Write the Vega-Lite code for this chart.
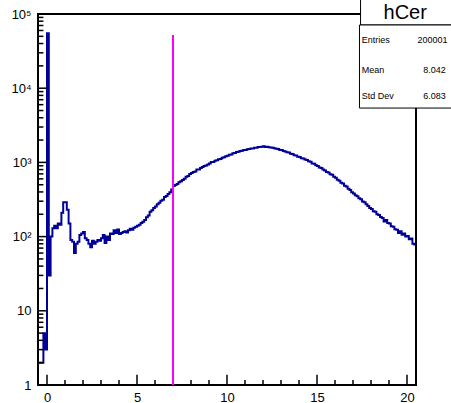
{
  "$schema": "https://vega.github.io/schema/vega-lite/v6.json",
  "width": 378,
  "height": 371,
  "autosize": {"type": "none"},
  "padding": {"left": 38, "top": 14, "right": 35, "bottom": 18},
  "background": "white",
  "config": {
    "view": {"stroke": "black", "strokeWidth": 2},
    "font": "Liberation Sans",
    "axis": {"grid": false, "domain": false, "ticks": false, "tickSize": 0, "labelColor": "black", "labelFontSize": 13, "labelFont": "Liberation Sans", "zindex": 1, "title": null, "labelFlush": false, "labelOverlap": false}
  },
  "datasets": {
    "hist": [
      {"x": -0.5, "n": 2}, {"x": -0.4, "n": 2}, {"x": -0.3, "n": 2}, {"x": -0.2, "n": 5}, {"x": -0.1, "n": 3},
      {"x": 0.0, "n": 55000}, {"x": 0.1, "n": 30}, {"x": 0.2, "n": 100}, {"x": 0.3, "n": 130}, {"x": 0.4, "n": 140},
      {"x": 0.5, "n": 130}, {"x": 0.6, "n": 150}, {"x": 0.7, "n": 145}, {"x": 0.8, "n": 210}, {"x": 0.9, "n": 290},
      {"x": 1.0, "n": 290}, {"x": 1.1, "n": 230}, {"x": 1.2, "n": 150}, {"x": 1.3, "n": 90}, {"x": 1.4, "n": 85},
      {"x": 1.5, "n": 60}, {"x": 1.6, "n": 80}, {"x": 1.7, "n": 85}, {"x": 1.8, "n": 105}, {"x": 1.9, "n": 110},
      {"x": 2.0, "n": 115}, {"x": 2.1, "n": 95}, {"x": 2.2, "n": 90}, {"x": 2.3, "n": 80}, {"x": 2.4, "n": 72},
      {"x": 2.5, "n": 88}, {"x": 2.6, "n": 80}, {"x": 2.7, "n": 85}, {"x": 2.8, "n": 90}, {"x": 2.9, "n": 88},
      {"x": 3.0, "n": 95}, {"x": 3.1, "n": 105}, {"x": 3.2, "n": 82}, {"x": 3.3, "n": 100}, {"x": 3.4, "n": 90},
      {"x": 3.5, "n": 110}, {"x": 3.6, "n": 108}, {"x": 3.7, "n": 122}, {"x": 3.8, "n": 112}, {"x": 3.9, "n": 125},
      {"x": 4.0, "n": 108}, {"x": 4.1, "n": 112}, {"x": 4.2, "n": 115}, {"x": 4.3, "n": 118}, {"x": 4.4, "n": 114},
      {"x": 4.5, "n": 122}, {"x": 4.6, "n": 128}, {"x": 4.7, "n": 124}, {"x": 4.8, "n": 132}, {"x": 4.9, "n": 136},
      {"x": 5.0, "n": 140}, {"x": 5.1, "n": 145}, {"x": 5.2, "n": 153}, {"x": 5.3, "n": 158}, {"x": 5.4, "n": 168},
      {"x": 5.5, "n": 183}, {"x": 5.6, "n": 193}, {"x": 5.7, "n": 216}, {"x": 5.8, "n": 226}, {"x": 5.9, "n": 242},
      {"x": 6.0, "n": 255}, {"x": 6.1, "n": 272}, {"x": 6.2, "n": 285}, {"x": 6.3, "n": 305}, {"x": 6.4, "n": 314},
      {"x": 6.5, "n": 342}, {"x": 6.6, "n": 352}, {"x": 6.7, "n": 375}, {"x": 6.8, "n": 395}, {"x": 6.9, "n": 430},
      {"x": 7.0, "n": 480}, {"x": 7.1, "n": 495}, {"x": 7.2, "n": 510}, {"x": 7.3, "n": 540}, {"x": 7.4, "n": 558},
      {"x": 7.5, "n": 580}, {"x": 7.6, "n": 600}, {"x": 7.7, "n": 640}, {"x": 7.8, "n": 655}, {"x": 7.9, "n": 700},
      {"x": 8.0, "n": 720}, {"x": 8.1, "n": 745}, {"x": 8.2, "n": 755}, {"x": 8.3, "n": 800}, {"x": 8.4, "n": 805},
      {"x": 8.5, "n": 840}, {"x": 8.6, "n": 865}, {"x": 8.7, "n": 895}, {"x": 8.8, "n": 905}, {"x": 8.9, "n": 940},
      {"x": 9.0, "n": 970}, {"x": 9.1, "n": 1010}, {"x": 9.2, "n": 1015}, {"x": 9.3, "n": 1055}, {"x": 9.4, "n": 1065},
      {"x": 9.5, "n": 1100}, {"x": 9.6, "n": 1115}, {"x": 9.7, "n": 1155}, {"x": 9.8, "n": 1170}, {"x": 9.9, "n": 1210},
      {"x": 10.0, "n": 1225}, {"x": 10.1, "n": 1265}, {"x": 10.2, "n": 1280}, {"x": 10.3, "n": 1325}, {"x": 10.4, "n": 1340},
      {"x": 10.5, "n": 1385}, {"x": 10.6, "n": 1390}, {"x": 10.7, "n": 1420}, {"x": 10.8, "n": 1440}, {"x": 10.9, "n": 1470},
      {"x": 11.0, "n": 1475}, {"x": 11.1, "n": 1500}, {"x": 11.2, "n": 1510}, {"x": 11.3, "n": 1540}, {"x": 11.4, "n": 1545},
      {"x": 11.5, "n": 1570}, {"x": 11.6, "n": 1580}, {"x": 11.7, "n": 1610}, {"x": 11.8, "n": 1615}, {"x": 11.9, "n": 1625},
      {"x": 12.0, "n": 1650}, {"x": 12.1, "n": 1615}, {"x": 12.2, "n": 1630}, {"x": 12.3, "n": 1600}, {"x": 12.4, "n": 1590},
      {"x": 12.5, "n": 1580}, {"x": 12.6, "n": 1555}, {"x": 12.7, "n": 1525}, {"x": 12.8, "n": 1520}, {"x": 12.9, "n": 1475},
      {"x": 13.0, "n": 1465}, {"x": 13.1, "n": 1425}, {"x": 13.2, "n": 1400}, {"x": 13.3, "n": 1375}, {"x": 13.4, "n": 1355},
      {"x": 13.5, "n": 1310}, {"x": 13.6, "n": 1295}, {"x": 13.7, "n": 1250}, {"x": 13.8, "n": 1235}, {"x": 13.9, "n": 1195},
      {"x": 14.0, "n": 1180}, {"x": 14.1, "n": 1140}, {"x": 14.2, "n": 1130}, {"x": 14.3, "n": 1090}, {"x": 14.4, "n": 1080},
      {"x": 14.5, "n": 1040}, {"x": 14.6, "n": 1020}, {"x": 14.7, "n": 970}, {"x": 14.8, "n": 960}, {"x": 14.9, "n": 915},
      {"x": 15.0, "n": 895}, {"x": 15.1, "n": 855}, {"x": 15.2, "n": 840}, {"x": 15.3, "n": 800}, {"x": 15.4, "n": 780},
      {"x": 15.5, "n": 745}, {"x": 15.6, "n": 730}, {"x": 15.7, "n": 695}, {"x": 15.8, "n": 680}, {"x": 15.9, "n": 640},
      {"x": 16.0, "n": 620}, {"x": 16.1, "n": 585}, {"x": 16.2, "n": 565}, {"x": 16.3, "n": 530}, {"x": 16.4, "n": 518},
      {"x": 16.5, "n": 485}, {"x": 16.6, "n": 472}, {"x": 16.7, "n": 442}, {"x": 16.8, "n": 425}, {"x": 16.9, "n": 395},
      {"x": 17.0, "n": 382}, {"x": 17.1, "n": 360}, {"x": 17.2, "n": 350}, {"x": 17.3, "n": 328}, {"x": 17.4, "n": 318},
      {"x": 17.5, "n": 298}, {"x": 17.6, "n": 290}, {"x": 17.7, "n": 272}, {"x": 17.8, "n": 258}, {"x": 17.9, "n": 242},
      {"x": 18.0, "n": 236}, {"x": 18.1, "n": 220}, {"x": 18.2, "n": 216}, {"x": 18.3, "n": 200}, {"x": 18.4, "n": 196},
      {"x": 18.5, "n": 184}, {"x": 18.6, "n": 178}, {"x": 18.7, "n": 160}, {"x": 18.8, "n": 168}, {"x": 18.9, "n": 152},
      {"x": 19.0, "n": 150}, {"x": 19.1, "n": 138}, {"x": 19.2, "n": 136}, {"x": 19.3, "n": 126}, {"x": 19.4, "n": 124},
      {"x": 19.5, "n": 112}, {"x": 19.6, "n": 118}, {"x": 19.7, "n": 106}, {"x": 19.8, "n": 110}, {"x": 19.9, "n": 100},
      {"x": 20.0, "n": 102}, {"x": 20.1, "n": 92}, {"x": 20.2, "n": 94}, {"x": 20.3, "n": 80}, {"x": 20.4, "n": 78},
      {"x": 20.5, "n": 78}
    ],
    "one": [{}]
  },
  "layer": [
    {
      "data": {"name": "hist"},
      "mark": {"type": "line", "interpolate": "step-after", "color": "#000099", "strokeWidth": 2},
      "encoding": {
        "x": {
          "field": "x", "type": "quantitative",
          "scale": {"domain": [-0.5, 20.5], "nice": false, "zero": false},
          "axis": {"orient": "bottom", "values": [0, 5, 10, 15, 20], "labelPadding": 6}
        },
        "y": {
          "field": "n", "type": "quantitative",
          "scale": {"type": "log", "domain": [1, 100000], "nice": false},
          "axis": {
            "orient": "left",
            "values": [1, 10, 100, 1000, 10000, 100000],
            "labelExpr": "datum.value == 1 ? '1' : datum.value == 10 ? '10' : datum.value == 100 ? '10²' : datum.value == 1000 ? '10³' : datum.value == 10000 ? '10⁴' : '10⁵'",
            "labelPadding": 7
          }
        }
      }
    },
    {
      "data": {"values": [{"tx": 0}, {"tx": 5}, {"tx": 10}, {"tx": 15}, {"tx": 20}]},
      "mark": {"type": "rule", "color": "black", "strokeWidth": 1.5},
      "encoding": {
        "x": {"field": "tx", "type": "quantitative"},
        "y": {"datum": 1, "type": "quantitative"},
        "y2": {"datum": 1.37}
      }
    },
    {
      "data": {"values": [{"tx": 1}, {"tx": 2}, {"tx": 3}, {"tx": 4}, {"tx": 6}, {"tx": 7}, {"tx": 8}, {"tx": 9}, {"tx": 11}, {"tx": 12}, {"tx": 13}, {"tx": 14}, {"tx": 16}, {"tx": 17}, {"tx": 18}, {"tx": 19}]},
      "mark": {"type": "rule", "color": "black", "strokeWidth": 1.5},
      "encoding": {
        "x": {"field": "tx", "type": "quantitative"},
        "y": {"datum": 1, "type": "quantitative"},
        "y2": {"datum": 1.17}
      }
    },
    {
      "data": {"values": [{"ty": 10}, {"ty": 100}, {"ty": 1000}, {"ty": 10000}]},
      "mark": {"type": "rule", "color": "black", "strokeWidth": 1.5},
      "encoding": {
        "y": {"field": "ty", "type": "quantitative"},
        "x": {"datum": -0.5, "type": "quantitative"},
        "x2": {"datum": 0.05}
      }
    },
    {
      "data": {"values": [{"ty": 2}, {"ty": 3}, {"ty": 4}, {"ty": 5}, {"ty": 6}, {"ty": 7}, {"ty": 8}, {"ty": 9}, {"ty": 20}, {"ty": 30}, {"ty": 40}, {"ty": 50}, {"ty": 60}, {"ty": 70}, {"ty": 80}, {"ty": 90}, {"ty": 200}, {"ty": 300}, {"ty": 400}, {"ty": 500}, {"ty": 600}, {"ty": 700}, {"ty": 800}, {"ty": 900}, {"ty": 2000}, {"ty": 3000}, {"ty": 4000}, {"ty": 5000}, {"ty": 6000}, {"ty": 7000}, {"ty": 8000}, {"ty": 9000}, {"ty": 20000}, {"ty": 30000}, {"ty": 40000}, {"ty": 50000}, {"ty": 60000}, {"ty": 70000}, {"ty": 80000}, {"ty": 90000}]},
      "mark": {"type": "rule", "color": "black", "strokeWidth": 1.5},
      "encoding": {
        "y": {"field": "ty", "type": "quantitative"},
        "x": {"datum": -0.5, "type": "quantitative"},
        "x2": {"datum": -0.2}
      }
    },
    {
      "data": {"name": "one"},
      "mark": {"type": "rule", "color": "#ff00ff", "strokeWidth": 2},
      "encoding": {
        "x": {"datum": 7, "type": "quantitative"},
        "y": {"datum": 1, "type": "quantitative"},
        "y2": {"datum": 52000}
      }
    },
    {
      "data": {"name": "one"},
      "mark": {"type": "rect", "fill": "white", "stroke": "black", "strokeWidth": 1, "clip": false},
      "encoding": {
        "x": {"datum": 17.42, "type": "quantitative"},
        "x2": {"datum": 22.6},
        "y": {"datum": 160000, "type": "quantitative"},
        "y2": {"datum": 71100}
      }
    },
    {
      "data": {"name": "one"},
      "mark": {"type": "rect", "fill": "white", "stroke": "black", "strokeWidth": 1, "clip": false},
      "encoding": {
        "x": {"datum": 17.36, "type": "quantitative"},
        "x2": {"datum": 22.6},
        "y": {"datum": 71100, "type": "quantitative"},
        "y2": {"datum": 5400}
      }
    },
    {
      "data": {"name": "one"},
      "mark": {"type": "text", "fontSize": 20, "align": "center", "baseline": "middle", "color": "black", "clip": false},
      "encoding": {
        "x": {"datum": 19.9, "type": "quantitative"},
        "y": {"datum": 103000, "type": "quantitative"},
        "text": {"value": "hCer"}
      }
    },
    {
      "data": {"name": "one"},
      "mark": {"type": "text", "fontSize": 9, "align": "left", "baseline": "middle", "color": "black", "clip": false},
      "encoding": {
        "x": {"datum": 17.48, "type": "quantitative"},
        "y": {"datum": 44600, "type": "quantitative"},
        "text": {"value": "Entries"}
      }
    },
    {
      "data": {"name": "one"},
      "mark": {"type": "text", "fontSize": 9, "align": "right", "baseline": "middle", "color": "black", "clip": false},
      "encoding": {
        "x": {"datum": 22.25, "type": "quantitative"},
        "y": {"datum": 44600, "type": "quantitative"},
        "text": {"value": "200001"}
      }
    },
    {
      "data": {"name": "one"},
      "mark": {"type": "text", "fontSize": 9, "align": "left", "baseline": "middle", "color": "black", "clip": false},
      "encoding": {
        "x": {"datum": 17.48, "type": "quantitative"},
        "y": {"datum": 17600, "type": "quantitative"},
        "text": {"value": "Mean"}
      }
    },
    {
      "data": {"name": "one"},
      "mark": {"type": "text", "fontSize": 9, "align": "right", "baseline": "middle", "color": "black", "clip": false},
      "encoding": {
        "x": {"datum": 22.15, "type": "quantitative"},
        "y": {"datum": 17600, "type": "quantitative"},
        "text": {"value": "8.042"}
      }
    },
    {
      "data": {"name": "one"},
      "mark": {"type": "text", "fontSize": 9, "align": "left", "baseline": "middle", "color": "black", "clip": false},
      "encoding": {
        "x": {"datum": 17.48, "type": "quantitative"},
        "y": {"datum": 7850, "type": "quantitative"},
        "text": {"value": "Std Dev"}
      }
    },
    {
      "data": {"name": "one"},
      "mark": {"type": "text", "fontSize": 9, "align": "right", "baseline": "middle", "color": "black", "clip": false},
      "encoding": {
        "x": {"datum": 22.15, "type": "quantitative"},
        "y": {"datum": 7850, "type": "quantitative"},
        "text": {"value": "6.083"}
      }
    }
  ]
}
